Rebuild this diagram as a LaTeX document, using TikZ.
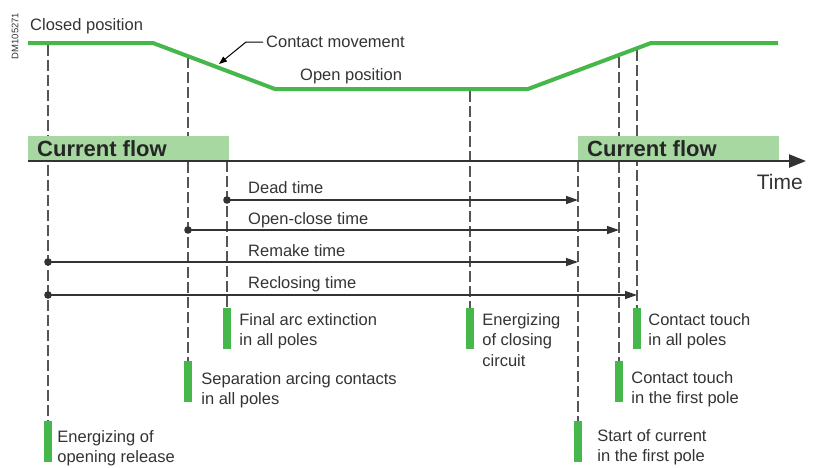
\documentclass[tikz,border=0pt]{standalone}
\usepackage{fontspec}
\setmainfont{Liberation Sans}
\usetikzlibrary{arrows.meta, positioning, calc}
\definecolor{movegreen}{HTML}{46B74B}
\definecolor{flowgreen}{HTML}{A7D8A1}
\definecolor{inkgray}{HTML}{333333}
\definecolor{dashgray}{HTML}{555555}
\tikzset{
  move/.style    ={draw=movegreen, line width=4pt},
  guide/.style   ={draw=dashgray, line width=1.3pt, dash pattern=on 11pt off 4pt},
  evbar/.style   ={rectangle, fill=movegreen, minimum width=8pt, minimum height=41pt,
                   inner sep=0pt, anchor=north},
  evtxt/.style   ={align=left, inner sep=0pt, text=inkgray,
                   font=\fontsize{16.5}{20.5}\selectfont},
  plain/.style   ={inner sep=0pt, text=inkgray, font=\fontsize{16.5}{20.5}\selectfont},
  flowbox/.style ={rectangle, fill=flowgreen, minimum width=201pt, minimum height=25pt,
                   inner sep=0pt, anchor=south west},
  flowtxt/.style ={inner sep=0pt, text=black!85, font=\fontsize{22}{24}\bfseries},
  axis/.style    ={draw=inkgray, line width=2.4pt, -{Triangle[length=17pt, width=13pt]}},
  timearr/.style ={draw=inkgray, line width=1.3pt, -{Triangle[length=12pt, width=8pt]}},
  tdot/.style    ={fill=inkgray},
  leader/.style  ={draw=black, line width=1pt, -{Triangle[length=8pt, width=6pt]}}
}

\begin{document}
\begin{tikzpicture}[x=1pt, y=-1pt]
    \useasboundingbox (0,0) rectangle (817,467);
    \node[rotate=90, inner sep=0pt, text=inkgray, font=\fontsize{9.5}{10}\selectfont]
      (dmref) at (15,36) {DM105271};

    % contact travel
    \coordinate (c1) at (28,43);
    \coordinate (c2) at (153,43);
    \coordinate (c3) at (275,89);
    \coordinate (c4) at (528,89);
    \coordinate (c5) at (651,43);
    \coordinate (c6) at (778,43);

    \coordinate (topA) at (48,45);
    \coordinate (topB) at (188,57);
    \coordinate (topC) at (227,161);
    \coordinate (topD) at (470,91);
    \coordinate (topE) at (578,161);
    \coordinate (topF) at (619,57);
    \coordinate (topG) at (637,50);

    \node[evbar] (barA) at (48,421) {};
    \node[evbar] (barB) at (188,361) {};
    \node[evbar] (barC) at (227,308) {};
    \node[evbar] (barD) at (470,308) {};
    \node[evbar] (barE) at (578,421) {};
    \node[evbar] (barF) at (619,361) {};
    \node[evbar] (barG) at (637,308) {};

    \foreach \ev in {A,B,C,D,E,F,G}
      \draw[guide] (top\ev) -- (bar\ev.north);

    \draw[move] (c1) -- (c2) -- (c3) -- (c4) -- (c5) -- (c6);

    \node[plain, anchor=base west] (closed) at (30,30) {Closed position};
    \node[plain, anchor=base west] (open) at (300,80) {Open position};
    \node[plain, anchor=west, inner xsep=3pt] (cmove) at (263,42) {Contact movement};
    \coordinate (cmtip) at (219,64);
    \draw[leader] (cmove.west) -- ++(-17,0) -- (cmtip);

    % current flow and time axis
    \node[flowbox] (flowL) at (28,161) {};
    \node[flowbox] (flowR) at (578,161) {};
    \node[flowtxt, anchor=base west] at ([shift={(9,-5)}]flowL.south west) {Current flow};
    \node[flowtxt, anchor=base west] at ([shift={(9,-5)}]flowR.south west) {Current flow};
    \coordinate (t0) at (28,161);
    \coordinate (t1) at (806,161);
    \draw[axis] (t0) -- (t1);
    \node[inner sep=0pt, text=inkgray, font=\fontsize{21}{22}\selectfont, anchor=base east]
      (time) at (803,189) {Time};

    % intervals
    \coordinate (dead-s) at (227,200);   \coordinate (dead-e) at (578,200);
    \coordinate (oc-s) at (188,230);     \coordinate (oc-e) at (619,230);
    \coordinate (remake-s) at (48,262);  \coordinate (remake-e) at (578,262);
    \coordinate (reclose-s) at (48,295); \coordinate (reclose-e) at (637,295);
    \foreach \iv in {dead,oc,remake,reclose}{
      \draw[timearr] (\iv-s) -- (\iv-e);
      \fill[tdot] (\iv-s) circle (3.8pt);
    }
    \node[plain, anchor=base west] (deadlbl) at (248,193) {Dead time};
    \node[plain, anchor=base west] (oclbl) at (248,224) {Open-close time};
    \node[plain, anchor=base west] (remakelbl) at (248,256) {Remake time};
    \node[plain, anchor=base west] (recloselbl) at (248,288) {Reclosing time};

    % events
    \node[evtxt, below right=9pt and 5pt of barA.north east] (txtA) {Energizing of\\opening release};
    \node[evtxt, below right=11pt and 9pt of barB.north east] (txtB) {Separation arcing contacts\\in all poles};
    \node[evtxt, below right=5pt and 8pt of barC.north east] (txtC) {Final arc extinction\\in all poles};
    \node[evtxt, below right=5pt and 8pt of barD.north east] (txtD) {Energizing\\of closing\\circuit};
    \node[evtxt, below right=8pt and 15pt of barE.north east] (txtE) {Start of current\\in the first pole};
    \node[evtxt, below right=10pt and 8pt of barF.north east] (txtF) {Contact touch\\in the first pole};
    \node[evtxt, below right=5pt and 7pt of barG.north east] (txtG) {Contact touch\\in all poles};
  \end{tikzpicture}
\end{document}
